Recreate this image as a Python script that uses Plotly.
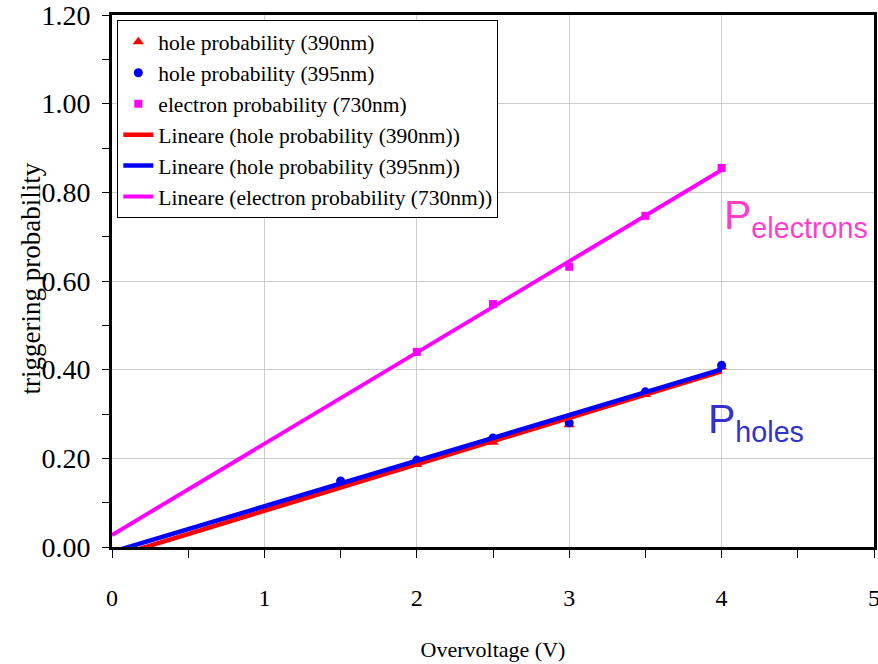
import numpy as np
import plotly.graph_objects as go

# Data
voltage = [1.5, 2.0, 2.5, 3.0, 3.5, 4.0]
hole_390 = [0.142, 0.186, 0.236, 0.276, 0.344, 0.406]
hole_395 = [0.149, 0.196, 0.246, 0.280, 0.350, 0.410]
voltage_e = [2.0, 2.5, 3.0, 3.5, 4.0]
electron_730 = [0.440, 0.548, 0.632, 0.747, 0.855]

y_ticks = [0.0, 0.2, 0.4, 0.6, 0.8, 1.0, 1.2]
x_ticks = [0, 1, 2, 3, 4, 5]

names_pts = ["hole probability (390nm)", "hole probability (395nm)", "electron probability (730nm)"]
names_fit = ["Lineare (hole probability (390nm))", "Lineare (hole probability (395nm))",
             "Lineare (electron probability (730nm))"]
y_title = "triggering probability"
x_title = "Overvoltage (V)"

RED, BLUE, MAG = "#ff0000", "#0000ff", "#ff00ff"
SERIF = "Liberation Serif"

fig = go.Figure()

fig.add_trace(go.Scatter(x=voltage, y=hole_390, mode="markers", name=names_pts[0],
                         marker=dict(symbol="triangle-up", size=10, color=RED)))
fig.add_trace(go.Scatter(x=voltage, y=hole_395, mode="markers", name=names_pts[1],
                         marker=dict(symbol="circle", size=9, color=BLUE)))
fig.add_trace(go.Scatter(x=voltage_e, y=electron_730, mode="markers", name=names_pts[2],
                         marker=dict(symbol="square", size=8, color=MAG)))

# Linear trendlines (least-squares fit), forecast back to x = 0
x_fit = np.array([0.0, max(voltage)])
for xs, ys, nm, col, w in [(voltage, hole_390, names_fit[0], RED, 4.5),
                           (voltage, hole_395, names_fit[1], BLUE, 4.5),
                           (voltage_e, electron_730, names_fit[2], MAG, 4)]:
    m, b = np.polyfit(xs, ys, 1)
    fig.add_trace(go.Scatter(x=x_fit, y=m * x_fit + b, mode="lines", name=nm,
                             line=dict(color=col, width=w)))

fig.add_annotation(x=4.0, y=0.743, xref="x", yref="y", xanchor="left", yanchor="middle",
                   text="P<sub>electrons</sub>", showarrow=False,
                   font=dict(family="Liberation Sans", size=41, color="#ff3fcc"))
fig.add_annotation(x=3.9, y=0.283, xref="x", yref="y", xanchor="left", yanchor="middle",
                   text="P<sub>holes</sub>", showarrow=False,
                   font=dict(family="Liberation Sans", size=41, color="#3333cc"))

# y-axis title placed as rotated text left of the tick labels
fig.add_annotation(x=-0.106, y=0.505, xref="paper", yref="paper", xanchor="center", yanchor="middle",
                   text=y_title, textangle=-90, showarrow=False,
                   font=dict(family=SERIF, size=27, color="black"))

fig.update_layout(
    width=878, height=664,
    margin=dict(l=112, r=4, t=15, b=117),
    paper_bgcolor="white", plot_bgcolor="white",
    font=dict(family=SERIF, size=20, color="black"),
    showlegend=True,
    legend=dict(x=0.007, y=0.99, xanchor="left", yanchor="top",
                bgcolor="white", bordercolor="black", borderwidth=1,
                font=dict(family=SERIF, size=21.5, color="black"),
                tracegroupgap=0, itemwidth=30),
    xaxis=dict(range=[0, 5], tickvals=x_ticks, ticktext=[str(v) for v in x_ticks],
               automargin=False, ticklabeloverflow="allow",
               tickfont=dict(family=SERIF, size=24),
               showgrid=True, gridcolor="#cccccc", gridwidth=1,
               showline=True, linecolor="black", linewidth=3, mirror=True,
               ticks="outside", ticklen=8, tickwidth=1, tickcolor="black",
               ticklabelstandoff=19,
               minor=dict(dtick=0.5, ticks="outside", ticklen=8, tickcolor="black", showgrid=False),
               zeroline=False,
               title=dict(text=x_title, standoff=32,
                          font=dict(family=SERIF, size=22))),
    yaxis=dict(range=[0, 1.2], tickvals=y_ticks, tickformat=".2f",
               automargin=False, ticklabeloverflow="allow",
               tickfont=dict(family=SERIF, size=28),
               showgrid=True, gridcolor="#cccccc", gridwidth=1,
               showline=True, linecolor="black", linewidth=3, mirror=True,
               ticks="outside", ticklen=7, tickwidth=1, tickcolor="black",
               ticklabelstandoff=6,
               minor=dict(dtick=0.1, ticks="outside", ticklen=7, tickcolor="black", showgrid=False),
               zeroline=False),
)

fig.write_html("out.html")
